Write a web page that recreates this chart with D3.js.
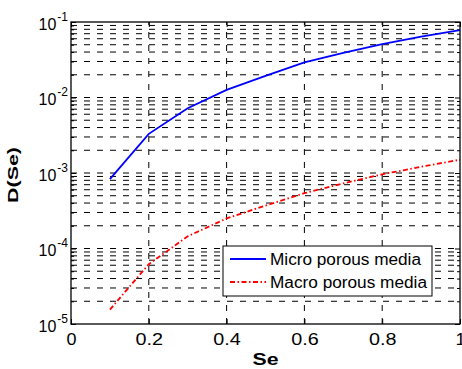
<!DOCTYPE html>
<html>
<head>
<meta charset="utf-8">
<script src="https://cdn.jsdelivr.net/npm/d3@7"></script>
<style>
  html,body{margin:0;padding:0;background:#fff;}
  svg{display:block;}
  text{font-family:Arial,"Liberation Sans",Helvetica,sans-serif;fill:#000;}
</style>
</head>
<body>
<svg id="chart" width="462" height="369"></svg>
<script>
// ---- data ----
const se = [0.1, 0.2, 0.3, 0.4, 0.5, 0.6, 0.7, 0.8, 0.9, 1.0];
const micro = [8.3e-4, 3.3e-3, 7.2e-3, 1.26e-2, 1.93e-2, 2.92e-2, 3.9e-2, 5.1e-2, 6.4e-2, 7.8e-2];
const macro = [1.55e-5, 6.2e-5, 1.45e-4, 2.5e-4, 3.7e-4, 5.4e-4, 7.3e-4, 9.6e-4, 1.21e-3, 1.5e-3];
const xTicks = [0, 0.2, 0.4, 0.6, 0.8, 1];
const xTickLabels = ["0", "0.2", "0.4", "0.6", "0.8", "1"];
const yMajor = [1e-5, 1e-4, 1e-3, 1e-2, 1e-1];
const yExponents = ["-5", "-4", "-3", "-2", "-1"];
const seriesNames = ["Micro porous media", "Macro porous media"];

// ---- layout ----
const L = 71, R = 460, T = 22, B = 324;
const svg = d3.select("#chart");
const x = d3.scaleLinear().domain([0, 1]).range([L, R]);
const y = d3.scaleLog().domain([1e-5, 1e-1]).range([B, T]);

const yMinor = [];
for (let e = -5; e < -1; e++) for (let k = 2; k <= 9; k++) yMinor.push(k * Math.pow(10, e));
const yGrid = yMinor.concat(yMajor.slice(1, -1));

// grid
const grid = svg.append("g").attr("stroke", "#000").attr("stroke-width", 1).attr("stroke-dasharray", "6,7").attr("fill", "none");
grid.selectAll("line.h").data(yGrid).join("line").attr("class", "h")
  .attr("x1", L).attr("x2", R).attr("y1", d => y(d)).attr("y2", d => y(d));
grid.selectAll("line.v").data(xTicks.slice(1, -1)).join("line").attr("class", "v")
  .attr("x1", d => x(d)).attr("x2", d => x(d)).attr("y1", B).attr("y2", T);

// axes ticks (inward)
function styleAxis(g) { g.select(".domain").remove(); g.selectAll(".tick line").attr("stroke", "#000"); }
svg.append("g").attr("transform", `translate(0,${B})`)
  .call(d3.axisBottom(x).tickValues(xTicks).tickFormat((d, i) => xTickLabels[i]).tickSize(-5).tickPadding(10))
  .call(styleAxis)
  .call(g => g.selectAll("text").attr("font-size", 16).attr("font-family", "Arial, Liberation Sans, sans-serif")
    .each(function (d, i) { const t = xTickLabels[i]; d3.select(this).attr("textLength", t.length > 1 ? 27.5 : 10).attr("lengthAdjust", "spacingAndGlyphs"); }));
svg.append("g").attr("transform", `translate(0,${T})`)
  .call(d3.axisTop(x).tickValues(xTicks).tickFormat("").tickSize(-5))
  .call(styleAxis);
svg.append("g").attr("transform", `translate(${L},0)`)
  .call(d3.axisLeft(y).tickValues(yMinor).tickFormat("").tickSize(-3)).call(styleAxis);
svg.append("g").attr("transform", `translate(${R},0)`)
  .call(d3.axisRight(y).tickValues(yMinor).tickFormat("").tickSize(-3)).call(styleAxis);
svg.append("g").attr("transform", `translate(${R},0)`)
  .call(d3.axisRight(y).tickValues(yMajor).tickFormat("").tickSize(-5)).call(styleAxis);
const yAx = svg.append("g").attr("transform", `translate(${L},0)`)
  .call(d3.axisLeft(y).tickValues(yMajor).tickFormat("").tickSize(-5)).call(styleAxis);
yAx.selectAll(".tick").each(function (d, i) {
  const t = d3.select(this).append("text").attr("x", -3).attr("y", 7).attr("text-anchor", "end").attr("font-size", 16).attr("fill", "#000");
  t.append("tspan").text("10");
  t.append("tspan").attr("font-size", 12).attr("dy", -9).attr("dx", 1).text(yExponents[i]);
});

// curves
const line = d3.line().x((d, i) => x(se[i])).y(d => y(d));
svg.append("path").datum(micro).attr("d", line).attr("fill", "none").attr("stroke", "#0000ff").attr("stroke-width", 1.8);
svg.append("path").datum(macro).attr("d", line).attr("fill", "none").attr("stroke", "#ff0000").attr("stroke-width", 1.8)
  .attr("stroke-dasharray", "5,2.5,1.5,2.5");

// box
svg.append("rect").attr("x", L).attr("y", T).attr("width", R - L).attr("height", B - T)
  .attr("fill", "none").attr("stroke", "#000").attr("stroke-width", 1.3);

// labels
svg.append("text").attr("x", (L + R) / 2).attr("y", 365).attr("text-anchor", "middle")
  .attr("font-size", 16).attr("font-weight", "bold").attr("textLength", 26).attr("lengthAdjust", "spacingAndGlyphs").text("Se");
svg.append("text").attr("transform", "translate(18,175) rotate(-90)").attr("text-anchor", "middle")
  .attr("font-size", 15).attr("font-weight", "bold").attr("textLength", 56).attr("lengthAdjust", "spacingAndGlyphs").text("D(Se)");

// legend
const lg = svg.append("g");
lg.append("rect").attr("x", 223).attr("y", 246).attr("width", 209).attr("height", 50)
  .attr("fill", "#fff").attr("stroke", "#000").attr("stroke-width", 1);
const colors = ["#0000ff", "#ff0000"], dashes = [null, "5,2.5,1.5,2.5"], lens = [151, 157];
seriesNames.forEach((n, i) => {
  const yy = 259 + i * 23;
  lg.append("line").attr("x1", 230).attr("x2", 266).attr("y1", yy).attr("y2", yy)
    .attr("stroke", colors[i]).attr("stroke-width", 1.8).attr("stroke-dasharray", dashes[i]);
  lg.append("text").attr("x", 270).attr("y", yy + 5.5).attr("font-size", 16)
    .attr("textLength", lens[i]).attr("lengthAdjust", "spacingAndGlyphs").text(n);
});
</script>
</body>
</html>
